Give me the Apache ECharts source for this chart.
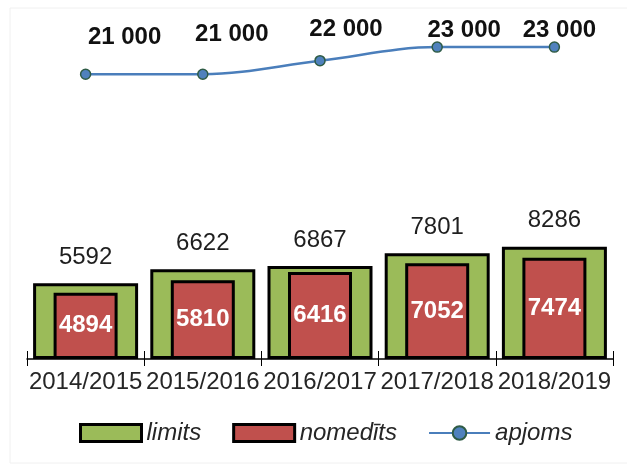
<!DOCTYPE html>
<html>
<head>
<meta charset="utf-8">
<script src="https://cdn.jsdelivr.net/npm/echarts@6/dist/echarts.min.js"></script>
<style>
  html, body { margin: 0; padding: 0; background: #fff; }
  #chart { width: 627px; height: 470px; }
</style>
</head>
<body>
<div id="chart"></div>
<script>
// data
const categories = ['2014/2015', '2015/2016', '2016/2017', '2017/2018', '2018/2019'];
const limits = [5592, 6622, 6867, 7801, 8286];
const nomedits = [4894, 5810, 6416, 7052, 7474];
const apjoms = [21000, 21000, 22000, 23000, 23000];

// label placement for the line (moved by hand in the original)
const apjomsLabelShift = [[39, -37], [29, -40], [26, -31], [27, -17], [5, -17]];

const font = 'Liberation Sans, Arial, sans-serif';

function spaced(v) {
  return String(v).replace(/\B(?=(\d{3})+(?!\d))/g, ' ');
}

var myChart = echarts.init(document.getElementById('chart'));

var option = {
  backgroundColor: '#fff',
  animation: false,
  textStyle: { fontFamily: font },
  graphic: [
    {
      type: 'rect',
      shape: { x: 10, y: 8, width: 640, height: 455 },
      style: { fill: 'none', stroke: '#f0f0f0', lineWidth: 1 },
      silent: true,
      z: -10
    }
  ],
  grid: { left: 27, right: 14, top: 20, bottom: 111 },
  legend: {
    top: 416,
    left: 74,
    itemWidth: 61,
    itemHeight: 17,
    itemGap: 31,
    textStyle: { fontSize: 24, fontStyle: 'italic', color: '#262626', fontFamily: font },
    data: [
      { name: 'limits', icon: 'rect', itemStyle: { borderWidth: 3 } },
      { name: 'nomedīts', icon: 'rect', itemStyle: { borderWidth: 3 } },
      'apjoms'
    ]
  },
  xAxis: [
    {
      type: 'category',
      data: categories,
      axisLine: { lineStyle: { color: '#000', width: 1.5 } },
      axisTick: { show: true, length: 7, lineStyle: { color: '#000', width: 1 } },
      axisLabel: { fontSize: 24, color: '#262626', margin: 11, interval: 0, fontFamily: font }
    },
    {
      type: 'category',
      data: categories,
      position: 'bottom',
      axisLine: { show: false },
      axisTick: { show: true, inside: true, length: 8, lineStyle: { color: '#000', width: 1 } },
      axisLabel: { show: false }
    }
  ],
  yAxis: {
    type: 'value',
    min: 0,
    max: 25000,
    show: false,
    splitLine: { show: false }
  },
  series: [
    {
      name: 'limits',
      type: 'bar',
      xAxisIndex: 0,
      barWidth: 105,
      itemStyle: { color: '#9BBB59', borderColor: '#000', borderWidth: 3 },
      label: {
        show: true,
        position: 'top',
        distance: 14,
        fontSize: 24,
        color: '#1f1f1f',
        fontFamily: font
      },
      data: limits,
      z: 2
    },
    {
      name: 'nomedīts',
      type: 'bar',
      xAxisIndex: 1,
      barWidth: 64,
      itemStyle: { color: '#C0504D', borderColor: '#000', borderWidth: 3 },
      label: {
        show: true,
        position: 'inside',
        fontSize: 24,
        fontWeight: 'bold',
        color: '#fff',
        fontFamily: font
      },
      data: nomedits,
      z: 3
    },
    {
      name: 'apjoms',
      type: 'line',
      xAxisIndex: 0,
      smooth: 0.35,
      symbol: 'circle',
      symbolSize: 10,
      lineStyle: { color: '#4A7EBB', width: 2.5 },
      itemStyle: { color: '#4F81BD', borderColor: '#2E5B45', borderWidth: 1.5 },
      label: {
        show: true,
        position: 'inside',
        fontSize: 24,
        fontWeight: 'bold',
        color: '#111',
        fontFamily: font,
        formatter: function (p) { return spaced(p.value); }
      },
      data: apjoms.map(function (v, i) {
        return { value: v, label: { offset: apjomsLabelShift[i] } };
      }),
      z: 4
    }
  ]
};

myChart.setOption(option);
</script>
</body>
</html>
